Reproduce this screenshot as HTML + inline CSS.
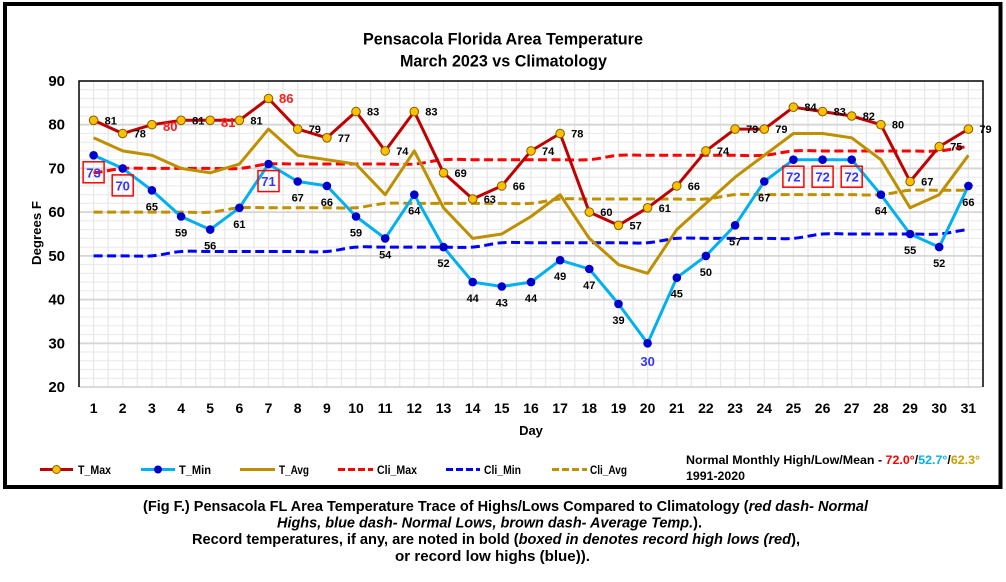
<!DOCTYPE html>
<html>
<head>
<meta charset="utf-8">
<style>
html,body{margin:0;padding:0;background:#fff;}
svg{display:block;}
text{font-family:"Liberation Sans",Arial,sans-serif;font-weight:bold;}
</style>
</head>
<body>
<svg width="1006" height="582" viewBox="0 0 1006 582" xmlns="http://www.w3.org/2000/svg">
<rect x="0" y="0" width="1006" height="582" fill="#fff"/>
<!-- outer frame -->
<rect x="5" y="4" width="995.5" height="483" fill="none" stroke="#000" stroke-width="4"/>

<!-- title -->
<text x="503" y="44.3" font-size="16.5" text-anchor="middle" textLength="280" lengthAdjust="spacingAndGlyphs" fill="#000">Pensacola Florida Area Temperature</text>
<text x="503.5" y="66.5" font-size="16.5" text-anchor="middle" textLength="207" lengthAdjust="spacingAndGlyphs" fill="#000">March 2023 vs Climatology</text>

<!-- grid minor horizontal -->
<path fill="none" stroke="#ececec" stroke-width="1.2" d="M79 378.26H983M79 369.52H983M79 360.77H983M79 352.03H983M79 334.55H983M79 325.80H983M79 317.06H983M79 308.32H983M79 290.83H983M79 282.09H983M79 273.34H983M79 264.60H983M79 247.11H983M79 238.37H983M79 229.63H983M79 220.89H983M79 203.40H983M79 194.66H983M79 185.91H983M79 177.17H983M79 159.69H983M79 150.94H983M79 142.20H983M79 133.46H983M79 115.97H983M79 107.23H983M79 98.49H983M79 89.74H983"/>
<!-- grid vertical -->
<path fill="none" stroke="#e8e8e8" stroke-width="1.3" d="M93.58 81V387M108.16 81V387M122.74 81V387M137.32 81V387M151.9 81V387M166.48 81V387M181.06 81V387M195.64 81V387M210.22 81V387M224.8 81V387M239.38 81V387M253.96 81V387M268.54 81V387M283.12 81V387M297.7 81V387M312.28 81V387M326.86 81V387M341.44 81V387M356.02 81V387M370.6 81V387M385.18 81V387M399.76 81V387M414.34 81V387M428.92 81V387M443.5 81V387M458.08 81V387M472.66 81V387M487.24 81V387M501.82 81V387M516.4 81V387M530.98 81V387M545.56 81V387M560.14 81V387M574.72 81V387M589.3 81V387M603.88 81V387M618.46 81V387M633.04 81V387M647.62 81V387M662.2 81V387M676.78 81V387M691.36 81V387M705.94 81V387M720.52 81V387M735.1 81V387M749.68 81V387M764.26 81V387M778.84 81V387M793.42 81V387M808 81V387M822.58 81V387M837.16 81V387M851.74 81V387M866.32 81V387M880.9 81V387M895.48 81V387M910.06 81V387M924.64 81V387M939.22 81V387M953.8 81V387M968.38 81V387"/>
<!-- grid major horizontal -->
<path fill="none" stroke="#d6d6d6" stroke-width="1.8" d="M79 387H983M79 343.29H983M79 299.57H983M79 255.86H983M79 212.14H983M79 168.43H983M79 124.71H983"/>
<!-- plot border -->
<path fill="none" stroke="#000" stroke-width="1.5" d="M79 387V81H983V387"/>

<!-- y tick labels -->
<g font-size="15" text-anchor="end" fill="#000">
<text x="65" y="86">90</text>
<text x="65" y="129.7">80</text>
<text x="65" y="173.4">70</text>
<text x="65" y="217.1">60</text>
<text x="65" y="260.9">50</text>
<text x="65" y="304.6">40</text>
<text x="65" y="348.3">30</text>
<text x="65" y="392">20</text>
</g>
<text transform="translate(41,233) rotate(-90)" x="0" y="0" font-size="13" text-anchor="middle" textLength="64" lengthAdjust="spacingAndGlyphs" fill="#000">Degrees F</text>

<!-- x tick labels -->
<g font-size="14" text-anchor="middle" fill="#000">
<text x="93.6" y="413">1</text><text x="122.7" y="413">2</text><text x="151.9" y="413">3</text><text x="181.1" y="413">4</text><text x="210.2" y="413">5</text><text x="239.4" y="413">6</text><text x="268.5" y="413">7</text><text x="297.7" y="413">8</text><text x="326.9" y="413">9</text><text x="356.0" y="413">10</text><text x="385.2" y="413">11</text><text x="414.3" y="413">12</text><text x="443.5" y="413">13</text><text x="472.7" y="413">14</text><text x="501.8" y="413">15</text><text x="531.0" y="413">16</text><text x="560.1" y="413">17</text><text x="589.3" y="413">18</text><text x="618.5" y="413">19</text><text x="647.6" y="413">20</text><text x="676.8" y="413">21</text><text x="705.9" y="413">22</text><text x="735.1" y="413">23</text><text x="764.3" y="413">24</text><text x="793.4" y="413">25</text><text x="822.6" y="413">26</text><text x="851.7" y="413">27</text><text x="880.9" y="413">28</text><text x="910.1" y="413">29</text><text x="939.2" y="413">30</text><text x="968.4" y="413">31</text>
</g>
<text x="531" y="435" font-size="13" text-anchor="middle" fill="#000">Day</text>

<!-- climatology lines -->
<g fill="none" stroke-width="3" stroke-dasharray="9 4.5">
<path stroke="#C09000" d="M93.6 212.14L181.1 212.14C190.8 212.14 200.5 212.87 210.2 212.14C219.9 211.41 229.7 208.50 239.4 207.77C249.1 207.04 258.8 207.77 268.5 207.77L326.9 207.77C336.6 207.77 346.3 208.50 356.0 207.77C365.7 207.04 375.5 204.13 385.2 203.40C394.9 202.67 404.6 203.40 414.3 203.40L501.8 203.40C511.5 203.40 521.3 204.13 531.0 203.40C540.7 202.67 550.4 199.76 560.1 199.03C569.9 198.30 579.6 199.03 589.3 199.03L676.8 199.03C686.5 199.03 696.2 199.76 705.9 199.03C715.6 198.30 725.4 195.39 735.1 194.66C744.8 193.93 754.6 194.66 764.3 194.66L851.7 194.66C861.5 194.66 871.2 195.39 880.9 194.66C890.6 193.93 900.3 191.02 910.1 190.29C919.8 189.56 929.5 190.29 939.2 190.29L968.4 190.29"/>
<path stroke="#0000FF" d="M93.6 255.86L122.7 255.86C132.5 255.86 142.2 256.59 151.9 255.86C161.6 255.13 171.3 252.22 181.1 251.49C190.8 250.76 200.5 251.49 210.2 251.49L297.7 251.49C307.4 251.49 317.1 252.22 326.9 251.49C336.6 250.76 346.3 247.84 356.0 247.11C365.7 246.38 375.5 247.11 385.2 247.11L443.5 247.11C453.2 247.11 463.0 247.84 472.7 247.11C482.4 246.38 492.1 243.47 501.8 242.74C511.5 242.01 521.3 242.74 531.0 242.74L618.5 242.74C628.2 242.74 637.9 243.47 647.6 242.74C657.3 242.01 667.1 239.10 676.8 238.37C686.5 237.64 696.2 238.37 705.9 238.37L764.3 238.37C774.0 238.37 783.7 239.10 793.4 238.37C803.1 237.64 812.9 234.73 822.6 234.00C832.3 233.27 842.0 234.00 851.7 234.00L910.1 234.00C919.8 234.00 929.5 234.73 939.2 234.00C948.9 233.27 958.7 230.36 968.4 229.63"/>
<path stroke="#FF0000" d="M93.6 172.8C103.3 172.07 113.0 169.16 122.7 168.43C132.5 167.70 142.2 168.43 151.9 168.43L210.2 168.43C219.9 168.43 229.7 169.16 239.4 168.43C249.1 167.70 258.8 164.79 268.5 164.06C278.3 163.33 288.0 164.06 297.7 164.06L385.2 164.06C394.9 164.06 404.6 164.79 414.3 164.06C424.1 163.33 433.8 160.42 443.5 159.69C453.2 158.96 463.0 159.69 472.7 159.69L560.1 159.69C569.9 159.69 579.6 160.42 589.3 159.69C599.0 158.96 608.8 156.04 618.5 155.31C628.2 154.58 637.9 155.31 647.6 155.31L735.1 155.31C744.8 155.31 754.6 156.04 764.3 155.31C774.0 154.58 783.7 151.67 793.4 150.94C803.1 150.21 812.9 150.94 822.6 150.94L910.1 150.94C919.8 150.94 929.5 151.67 939.2 150.94C948.9 150.21 958.7 147.30 968.4 146.57"/>
</g>

<!-- T_Avg -->
<polyline fill="none" stroke="#BF8F00" stroke-width="3" stroke-linejoin="round" points="93.6,137.8 122.7,150.9 151.9,155.3 181.1,168.4 210.2,172.8 239.4,164.1 268.5,129.1 297.7,155.3 326.9,159.7 356.0,164.1 385.2,194.7 414.3,150.9 443.5,207.8 472.7,238.4 501.8,234.0 531.0,216.5 560.1,194.7 589.3,238.4 618.5,264.6 647.6,273.3 676.8,229.6 705.9,203.4 735.1,177.2 764.3,155.3 793.4,133.5 822.6,133.5 851.7,137.8 880.9,159.7 910.1,207.8 939.2,194.7 968.4,155.3"/>
<!-- T_Min -->
<polyline fill="none" stroke="#00B0F0" stroke-width="3" stroke-linejoin="round" points="93.6,155.3 122.7,168.4 151.9,190.3 181.1,216.5 210.2,229.6 239.4,207.8 268.5,164.1 297.7,181.5 326.9,185.9 356.0,216.5 385.2,238.4 414.3,194.7 443.5,247.1 472.7,282.1 501.8,286.5 531.0,282.1 560.1,260.2 589.3,269.0 618.5,303.9 647.6,343.3 676.8,277.7 705.9,255.9 735.1,225.3 764.3,181.5 793.4,159.7 822.6,159.7 851.7,159.7 880.9,194.7 910.1,234.0 939.2,247.1 968.4,185.9"/>
<!-- T_Max -->
<polyline fill="none" stroke="#C00000" stroke-width="3" stroke-linejoin="round" points="93.6,120.3 122.7,133.5 151.9,124.7 181.1,120.3 210.2,120.3 239.4,120.3 268.5,98.5 297.7,129.1 326.9,137.8 356.0,111.6 385.2,150.9 414.3,111.6 443.5,172.8 472.7,199.0 501.8,185.9 531.0,150.9 560.1,133.5 589.3,212.1 618.5,225.3 647.6,207.8 676.8,185.9 705.9,150.9 735.1,129.1 764.3,129.1 793.4,107.2 822.6,111.6 851.7,116.0 880.9,124.7 910.1,181.5 939.2,146.6 968.4,129.1"/>

<!-- T_Min markers -->
<g fill="#0000CC">
<circle cx="93.6" cy="155.3" r="4.3"/><circle cx="122.7" cy="168.4" r="4.3"/><circle cx="151.9" cy="190.3" r="4.3"/><circle cx="181.1" cy="216.5" r="4.3"/><circle cx="210.2" cy="229.6" r="4.3"/><circle cx="239.4" cy="207.8" r="4.3"/><circle cx="268.5" cy="164.1" r="4.3"/><circle cx="297.7" cy="181.5" r="4.3"/><circle cx="326.9" cy="185.9" r="4.3"/><circle cx="356.0" cy="216.5" r="4.3"/><circle cx="385.2" cy="238.4" r="4.3"/><circle cx="414.3" cy="194.7" r="4.3"/><circle cx="443.5" cy="247.1" r="4.3"/><circle cx="472.7" cy="282.1" r="4.3"/><circle cx="501.8" cy="286.5" r="4.3"/><circle cx="531.0" cy="282.1" r="4.3"/><circle cx="560.1" cy="260.2" r="4.3"/><circle cx="589.3" cy="269.0" r="4.3"/><circle cx="618.5" cy="303.9" r="4.3"/><circle cx="647.6" cy="343.3" r="4.3"/><circle cx="676.8" cy="277.7" r="4.3"/><circle cx="705.9" cy="255.9" r="4.3"/><circle cx="735.1" cy="225.3" r="4.3"/><circle cx="764.3" cy="181.5" r="4.3"/><circle cx="793.4" cy="159.7" r="4.3"/><circle cx="822.6" cy="159.7" r="4.3"/><circle cx="851.7" cy="159.7" r="4.3"/><circle cx="880.9" cy="194.7" r="4.3"/><circle cx="910.1" cy="234.0" r="4.3"/><circle cx="939.2" cy="247.1" r="4.3"/><circle cx="968.4" cy="185.9" r="4.3"/>
</g>
<!-- T_Max markers -->
<g fill="#FFC000" stroke="#7F6000" stroke-width="1">
<circle cx="93.6" cy="120.3" r="4.3"/><circle cx="122.7" cy="133.5" r="4.3"/><circle cx="151.9" cy="124.7" r="4.3"/><circle cx="181.1" cy="120.3" r="4.3"/><circle cx="210.2" cy="120.3" r="4.3"/><circle cx="239.4" cy="120.3" r="4.3"/><circle cx="268.5" cy="98.5" r="4.3"/><circle cx="297.7" cy="129.1" r="4.3"/><circle cx="326.9" cy="137.8" r="4.3"/><circle cx="356.0" cy="111.6" r="4.3"/><circle cx="385.2" cy="150.9" r="4.3"/><circle cx="414.3" cy="111.6" r="4.3"/><circle cx="443.5" cy="172.8" r="4.3"/><circle cx="472.7" cy="199.0" r="4.3"/><circle cx="501.8" cy="185.9" r="4.3"/><circle cx="531.0" cy="150.9" r="4.3"/><circle cx="560.1" cy="133.5" r="4.3"/><circle cx="589.3" cy="212.1" r="4.3"/><circle cx="618.5" cy="225.3" r="4.3"/><circle cx="647.6" cy="207.8" r="4.3"/><circle cx="676.8" cy="185.9" r="4.3"/><circle cx="705.9" cy="150.9" r="4.3"/><circle cx="735.1" cy="129.1" r="4.3"/><circle cx="764.3" cy="129.1" r="4.3"/><circle cx="793.4" cy="107.2" r="4.3"/><circle cx="822.6" cy="111.6" r="4.3"/><circle cx="851.7" cy="116.0" r="4.3"/><circle cx="880.9" cy="124.7" r="4.3"/><circle cx="910.1" cy="181.5" r="4.3"/><circle cx="939.2" cy="146.6" r="4.3"/><circle cx="968.4" cy="129.1" r="4.3"/>
</g>

<!-- T_Max labels -->
<g font-size="11" fill="#000">
<text x="104.6" y="124.3">81</text>
<text x="133.7" y="137.5">78</text>
<text x="192.1" y="124.3">81</text>
<text x="250.4" y="124.3">81</text>
<text x="308.7" y="133.1">79</text>
<text x="337.9" y="141.8">77</text>
<text x="367.0" y="115.6">83</text>
<text x="396.2" y="154.9">74</text>
<text x="425.3" y="115.6">83</text>
<text x="454.5" y="176.8">69</text>
<text x="483.7" y="203.0">63</text>
<text x="512.8" y="189.9">66</text>
<text x="542.0" y="154.9">74</text>
<text x="571.1" y="137.5">78</text>
<text x="600.3" y="216.1">60</text>
<text x="629.5" y="229.3">57</text>
<text x="658.6" y="211.8">61</text>
<text x="687.8" y="189.9">66</text>
<text x="716.9" y="154.9">74</text>
<text x="746.1" y="133.1">79</text>
<text x="775.3" y="133.1">79</text>
<text x="804.4" y="111.2">84</text>
<text x="833.6" y="115.6">83</text>
<text x="862.7" y="120.0">82</text>
<text x="891.9" y="128.7">80</text>
<text x="921.1" y="185.5">67</text>
<text x="950.2" y="150.6">75</text>
<text x="979.4" y="133.1">79</text>
</g>
<g font-size="13" fill="#FF1A1A">
<text x="163" y="131">80</text>
<text x="221" y="127">81</text>
<text x="279" y="103">86</text>
</g>

<!-- T_Min labels -->
<g font-size="11" fill="#000" text-anchor="middle">
<text x="151.9" y="210.3">65</text>
<text x="181.1" y="236.5">59</text>
<text x="210.2" y="249.6">56</text>
<text x="239.4" y="227.8">61</text>
<text x="297.7" y="201.5">67</text>
<text x="326.9" y="205.9">66</text>
<text x="356.0" y="236.5">59</text>
<text x="385.2" y="258.4">54</text>
<text x="414.3" y="214.7">64</text>
<text x="443.5" y="267.1">52</text>
<text x="472.7" y="302.1">44</text>
<text x="501.8" y="306.5">43</text>
<text x="531.0" y="302.1">44</text>
<text x="560.1" y="280.2">49</text>
<text x="589.3" y="289.0">47</text>
<text x="618.5" y="323.9">39</text>
<text x="676.8" y="297.7">45</text>
<text x="705.9" y="275.9">50</text>
<text x="735.1" y="245.3">57</text>
<text x="764.3" y="201.5">67</text>
<text x="880.9" y="214.7">64</text>
<text x="910.1" y="254.0">55</text>
<text x="939.2" y="267.1">52</text>
<text x="968.4" y="205.9">66</text>
</g>
<text x="647.6" y="366" font-size="13" fill="#3535FF" text-anchor="middle">30</text>

<!-- boxed record labels -->
<g fill="none" stroke="#FF0000" stroke-width="1.5">
<rect x="83.1" y="161.8" width="21" height="21"/>
<rect x="112.2" y="174.9" width="21" height="21"/>
<rect x="258" y="170.6" width="21" height="21"/>
<rect x="782.9" y="166.2" width="21" height="21"/>
<rect x="812.1" y="166.2" width="21" height="21"/>
<rect x="841.2" y="166.2" width="21" height="21"/>
</g>
<g font-size="13" fill="#3535FF" text-anchor="middle">
<text x="93.6" y="177.3">73</text>
<text x="122.7" y="190.4">70</text>
<text x="268.5" y="186.1">71</text>
<text x="793.4" y="181.7">72</text>
<text x="822.6" y="181.7">72</text>
<text x="851.7" y="181.7">72</text>
</g>

<!-- legend -->
<g stroke-width="3" fill="none">
<line x1="40" y1="469.5" x2="73" y2="469.5" stroke="#C00000"/>
<line x1="141" y1="469.5" x2="175" y2="469.5" stroke="#00B0F0"/>
<line x1="240" y1="469.5" x2="275" y2="469.5" stroke="#BF8F00"/>
<line x1="338" y1="469.5" x2="373" y2="469.5" stroke="#FF0000" stroke-dasharray="7 3"/>
<line x1="446" y1="469.5" x2="480" y2="469.5" stroke="#0000FF" stroke-dasharray="7 3"/>
<line x1="552" y1="469.5" x2="587" y2="469.5" stroke="#C09000" stroke-dasharray="7 3"/>
</g>
<circle cx="56.5" cy="469.5" r="4" fill="#FFC000" stroke="#7F6000" stroke-width="1"/>
<circle cx="158" cy="469.5" r="4" fill="#0000CC"/>
<g font-size="12" fill="#000">
<text x="78" y="473.8" textLength="33" lengthAdjust="spacingAndGlyphs">T_Max</text>
<text x="179" y="473.8" textLength="32" lengthAdjust="spacingAndGlyphs">T_Min</text>
<text x="279" y="473.8" textLength="30" lengthAdjust="spacingAndGlyphs">T_Avg</text>
<text x="377" y="473.8" textLength="40" lengthAdjust="spacingAndGlyphs">Cli_Max</text>
<text x="484" y="473.8" textLength="37" lengthAdjust="spacingAndGlyphs">Cli_Min</text>
<text x="590" y="473.8" textLength="37" lengthAdjust="spacingAndGlyphs">Cli_Avg</text>
</g>
<text x="686" y="464" font-size="12" fill="#000" textLength="294" lengthAdjust="spacingAndGlyphs">Normal Monthly High/Low/Mean - <tspan fill="#FF0000">72.0°</tspan>/<tspan fill="#00B0F0">52.7°</tspan>/<tspan fill="#C9A000">62.3°</tspan></text>
<text x="686" y="480" font-size="12" fill="#000" textLength="59" lengthAdjust="spacingAndGlyphs">1991-2020</text>

<!-- caption -->
<g font-size="14.5" fill="#000">
<text x="143" y="511" textLength="725" lengthAdjust="spacingAndGlyphs">(Fig F.) Pensacola FL Area Temperature Trace of Highs/Lows Compared to Climatology (<tspan font-style="italic">red dash- Normal</tspan></text>
<text x="277" y="527.5" textLength="425" lengthAdjust="spacingAndGlyphs"><tspan font-style="italic">Highs, blue dash- Normal Lows, brown dash- Average Temp.</tspan>).</text>
<text x="192" y="544" textLength="608" lengthAdjust="spacingAndGlyphs">Record temperatures, if any, are noted in bold (<tspan font-style="italic">boxed in denotes record high lows (red</tspan>),</text>
<text x="395" y="561" textLength="195" lengthAdjust="spacingAndGlyphs">or record low highs (blue)).</text>
</g>
</svg>
</body>
</html>
